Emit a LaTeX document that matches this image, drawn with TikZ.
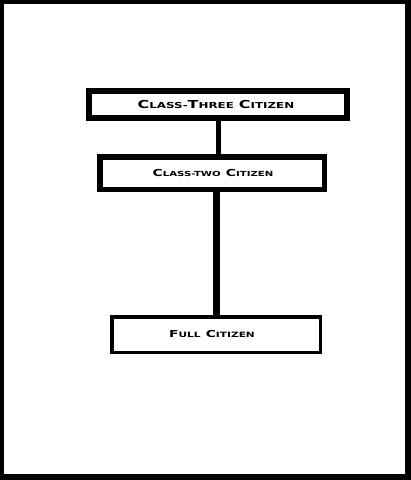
\documentclass[tikz,border=0pt]{standalone}
\usepackage{fontspec}
\newfontfamily\cpfont{DejaVu Sans}[FakeStretch=1.45]
\newcommand{\mysc}[4]{{\fontsize{#1}{#1}\selectfont #3}{\fontsize{#2}{#2}\selectfont #4}}
\tikzset{
  citbox/.style={draw=black, fill=white, inner sep=0pt, font=\cpfont\bfseries, text=black},
  link/.style={draw=black, line cap=butt}
}
\begin{document}
\begin{tikzpicture}[x=1pt,y=-1pt]
  \fill[black] (0,0) rectangle (411,480);
  \fill[white] (4,4) rectangle (405,474);
  \useasboundingbox (0,0) rectangle (411,480);
  \node[citbox, line width=6pt, minimum width=258pt, minimum height=27pt] (b1) at (218,104.5)
    {\mysc{11}{8.2}{C}{LASS-}\mysc{11}{8.2}{T}{HREE} \mysc{11}{8.2}{C}{ITIZEN}\hspace*{4pt}};
  \node[citbox, line width=5.5pt, minimum width=224.5pt, minimum height=32.5pt] (b2) at (212,173)
    {\hspace*{2pt}\mysc{9.6}{7}{C}{LASS-TWO} \mysc{9.6}{7}{C}{ITIZEN}};
  \node[citbox, line width=3.5pt, minimum width=208.5pt, minimum height=35.5pt] (b3) at (216,334.5)
    {\mysc{9.6}{7.3}{F}{ULL} \mysc{9.6}{7.3}{C}{ITIZEN}\hspace*{8pt}};
  \draw[link, line width=5pt] (b1.south) -- (b1.south |- b2.north);
  \draw[link, line width=7pt] (b3.north |- b2.south) -- (b3.north);
\end{tikzpicture}
\end{document}
